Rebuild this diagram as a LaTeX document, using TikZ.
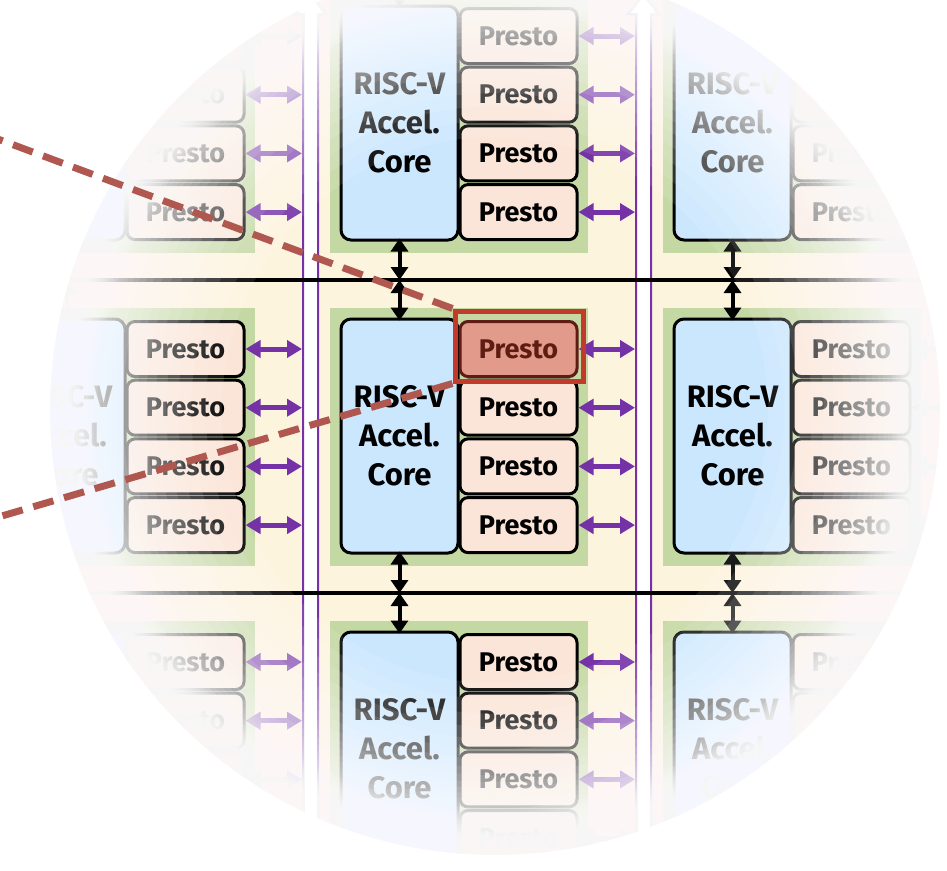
\documentclass[tikz,border=0pt]{standalone}
\usepackage{fontspec}
\IfFontExistsTF{FiraSans-SemiBold.otf}{%
  \setmainfont{FiraSans-Regular.otf}[BoldFont=FiraSans-SemiBold.otf]}{%
  \setmainfont{Fira Sans}}
\usetikzlibrary{arrows.meta}

\definecolor{cream}{HTML}{FDF4DE}
\definecolor{tilegreen}{HTML}{C4D8A3}
\definecolor{coreblue}{HTML}{CBE7FE}
\definecolor{prestofill}{HTML}{FBE5D8}
\definecolor{hlfill}{HTML}{E29B8A}
\definecolor{hlborder}{HTML}{C23B2A}
\definecolor{hldark}{HTML}{5E1C12}
\definecolor{purp}{HTML}{7432A6}
\definecolor{dashred}{HTML}{B0584F}

\tikzset{
  corebox/.style={draw=black, line width=3pt, fill=coreblue, rounded corners=10pt,
    minimum width=117pt, minimum height=234pt, inner sep=0pt, outer sep=0pt,
    align=center, font=\fontsize{31}{39}\selectfont\bfseries},
  prestobox/.style={draw=black, line width=3pt, fill=prestofill, rounded corners=8pt,
    minimum width=117pt, minimum height=55pt, inner sep=0pt, outer sep=0pt,
    font=\fontsize{27}{30}\selectfont\bfseries},
  hlpresto/.style={prestobox, fill=hlfill, draw=hldark, text=hldark},
  purparrow/.style={draw=purp, line width=5pt,
    {Triangle[width=17pt,length=15pt]}-{Triangle[width=17pt,length=15pt]}},
  blackarrow/.style={draw=black, line width=4pt,
    {Triangle[width=17pt,length=13pt]}-{Triangle[width=17pt,length=13pt]}},
  chanline/.style={draw=purp, line width=2pt},
  busline/.style={draw=black, line width=4pt},
  hlrect/.style={draw=hlborder, line width=5pt, minimum width=128pt, minimum height=70pt, inner sep=0pt},
  dashlink/.style={draw=dashred, line width=7pt, dash pattern=on 21pt off 11pt},
  veil/.style={fill=white, fill opacity=0.1, even odd rule},
}

\begin{document}
\begin{tikzpicture}[x=1pt, y=-1pt]
\useasboundingbox (0,0) rectangle (947,870);
\clip (0,0) rectangle (947,870);
% background
\fill[cream] (0,0) rectangle (947,870);
% vertical channels (fat up-arrows)
\foreach \cx in {303,636}{
  \filldraw[fill=white, chanline] (\cx,900) -- (\cx,14) -- (\cx-8,14) -- (\cx+7.5,-6) -- (\cx+23,14) -- (\cx+15,14) -- (\cx+15,900);
}
% horizontal buses
\coordinate (busAw) at (0,280);
\coordinate (busAe) at (947,280);
\coordinate (busBw) at (0,593);
\coordinate (busBe) at (947,593);
\draw[busline] (busAw) -- (busAe);
\draw[busline] (busBw) -- (busBe);
% tiles
\foreach \i/\cn in {-1/L,0/C,1/R}{
  \foreach \j/\rn in {-1/T,0/M,1/B}{
    \pgfmathsetmacro{\gx}{330+333*\i}
    \pgfmathsetmacro{\gy}{308+313*\j}
    \fill[tilegreen] (\gx,\gy) rectangle (\gx+258,\gy+258);
    \node[corebox] (core\cn\rn) at (\gx+69.5,\gy+128) {RISC-V\\Accel.\\Core};
    \foreach \k in {0,1,2,3}{
      \ifnum\i=0 \ifnum\j=0 \ifnum\k=0
        \node[hlpresto] (p\cn\rn\k) at (\gx+188.5,\gy+41+58.7*\k) {Presto};
      \else
        \node[prestobox] (p\cn\rn\k) at (\gx+188.5,\gy+41+58.7*\k) {Presto};
      \fi\else
        \node[prestobox] (p\cn\rn\k) at (\gx+188.5,\gy+41+58.7*\k) {Presto};
      \fi\else
        \node[prestobox] (p\cn\rn\k) at (\gx+188.5,\gy+41+58.7*\k) {Presto};
      \fi
      \coordinate (ch\cn\rn\k) at (\gx+305,\gy+41+58.7*\k);
      \draw[purparrow] ([xshift=1.5pt]p\cn\rn\k.east) -- (ch\cn\rn\k);
    }
    \coordinate (bt\cn\rn) at (\gx+69.5,\gy-28);
    \coordinate (bb\cn\rn) at (\gx+69.5,\gy+285);
    \draw[blackarrow] ([yshift=-1.5pt]core\cn\rn.north) -- (bt\cn\rn);
    \draw[blackarrow] ([yshift=1.5pt]core\cn\rn.south) -- (bb\cn\rn);
  }
}
% highlight
\node[hlrect] (hl) at (519,346) {};
% vignette: stacked faint white veils outside growing circles
\coordinate (vc) at (495,410);
\foreach \j in {1,...,45}{
  \pgfmathsetmacro{\rr}{255+180*(1-0.9^\j)}
  \fill[veil] (-20,-20) rectangle (967,890) (vc) circle[radius=\rr];
}
\foreach \m in {1,...,12}{
  \pgfmathsetmacro{\rr}{395+4*\m}
  \fill[veil] (-20,-20) rectangle (967,890) (vc) circle[radius=\rr];
}
\fill[white, even odd rule] (-20,-20) rectangle (967,890) (vc) circle[radius=445];
% dashed links
\coordinate (farA) at (-5,138);
\coordinate (farB) at (-5,518);
\draw[dashlink] (hl.north west) -- (farA);
\draw[dashlink] (hl.south west) -- (farB);
\end{tikzpicture}
\end{document}
